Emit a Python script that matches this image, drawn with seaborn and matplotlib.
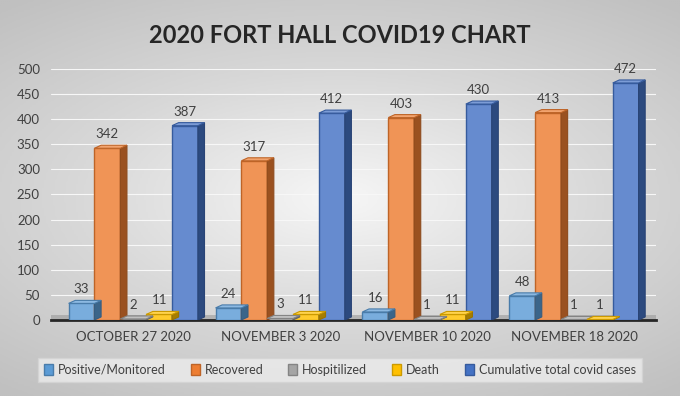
import numpy as np
import pandas as pd
import matplotlib
matplotlib.use('Agg')
import matplotlib.pyplot as plt
import matplotlib.colors as mcolors
import seaborn as sns
from matplotlib.patches import Polygon, Patch

# данные с графика
dates = ['OCTOBER 27 2020', 'NOVEMBER 3 2020', 'NOVEMBER 10 2020', 'NOVEMBER 18 2020']
series = ['Positive/Monitored', 'Recovered', 'Hospitilized', 'Death',
          'Cumulative total covid cases']
positive = [33, 24, 16, 48]
recovered = [342, 317, 403, 413]
hospitalized = [2, 3, 1, 1]
death = [11, 11, 11, 1]
cumulative = [387, 412, 430, 472]

colors = ['#5B9BD5', '#ED7D31', '#A5A5A5', '#FFC000', '#4472C4']

values = [positive, recovered, hospitalized, death, cumulative]
df = pd.DataFrame({
    'date': dates * len(series),
    'series': [s for s in series for _ in dates],
    'value': [v for vals in values for v in vals],
})

sns.set_style('white')
plt.rcParams['font.family'] = ['Lato', 'DejaVu Sans']

fig = plt.figure(figsize=(6.8, 3.96), dpi=100)

# серый фон с градиентом
bg = fig.add_axes([0, 0, 1, 1], zorder=-10)
yy, xx = np.mgrid[-1:1:200j, -1:1:340j]
r = np.sqrt((xx * 0.9) ** 2 + (yy * 1.1) ** 2)
bg.imshow(np.clip(r, 0, 1.4), cmap=mcolors.LinearSegmentedColormap.from_list(
    'g', ['#f6f6f6', '#d8d8d8', '#c0c0c0']), aspect='auto', extent=[0, 1, 0, 1])
bg.axis('off')

ax = fig.add_axes([0.075, 0.192, 0.89, 0.634])
ax.set_facecolor('none')

sns.barplot(data=df, x='date', y='value', hue='series', hue_order=series,
            order=dates, palette=colors, width=0.88, saturation=1,
            legend=False, ax=ax, zorder=3)

ax.set_ylim(0, 500)
ax.set_xlim(-0.56, 3.56)
ax.set_yticks(range(0, 501, 50))
for y in range(50, 501, 50):
    ax.axhline(y, color='#f7f7f7', lw=0.8, zorder=0)

# пол
ax.axhspan(0, 9, color='#9a9a9a', alpha=0.6, zorder=1, lw=0)

dx, dy = 0.045, 6
for i, p in enumerate(ax.patches[:len(series) * len(dates)]):
    s = i // len(dates)
    base = np.array(mcolors.to_rgb(colors[s]))
    x0 = p.get_x()
    w = p.get_width()
    h = p.get_height()
    x1 = x0 + w
    p.set_facecolor(np.clip(base + (1 - base) * 0.18, 0, 1))
    p.set_edgecolor(base * 0.8)
    p.set_linewidth(1.0)
    side = Polygon([(x1, 0), (x1 + dx, dy), (x1 + dx, h + dy), (x1, h)],
                   closed=True, facecolor=base * 0.65, edgecolor=base * 0.6,
                   lw=0.8, zorder=3)
    top = Polygon([(x0, h), (x0 + dx, h + dy), (x1 + dx, h + dy), (x1, h)],
                  closed=True, facecolor=np.clip(base + (1 - base) * 0.3, 0, 1),
                  edgecolor=base * 0.8, lw=0.8, zorder=3)
    ax.add_patch(side)
    ax.add_patch(top)
    ax.text(x0 + w / 2, h + dy + 10, str(values[s][i % len(dates)]),
            ha='center', va='bottom', fontsize=9.5, color='#404040', zorder=5)

for sp in ['top', 'right', 'left']:
    ax.spines[sp].set_visible(False)
ax.spines['bottom'].set_color('#262626')
ax.spines['bottom'].set_linewidth(2)
ax.tick_params(axis='x', length=0, labelsize=9.5, labelcolor='#404040', pad=8)
ax.tick_params(axis='y', length=0, labelsize=9.5, labelcolor='#404040', pad=8)
ax.set_xlabel('')
ax.set_ylabel('')

fig.suptitle('2020 FORT HALL COVID19 CHART', y=0.94, fontsize=17,
             fontweight='bold', color='#262626')

handles = [Patch(facecolor=c, edgecolor=np.array(mcolors.to_rgb(c)) * 0.8)
           for c in colors]
leg = fig.legend(handles, series, loc='center', bbox_to_anchor=(0.5, 0.066),
                 ncol=5, fontsize=9, frameon=True, fancybox=False,
                 handlelength=0.7, handleheight=0.9, handletextpad=0.4,
                 columnspacing=2.0, borderpad=0.5, labelcolor='#404040')
leg.get_frame().set_facecolor('#ececec')
leg.get_frame().set_edgecolor('#d4d4d4')

fig.savefig('out.png', dpi=100)
